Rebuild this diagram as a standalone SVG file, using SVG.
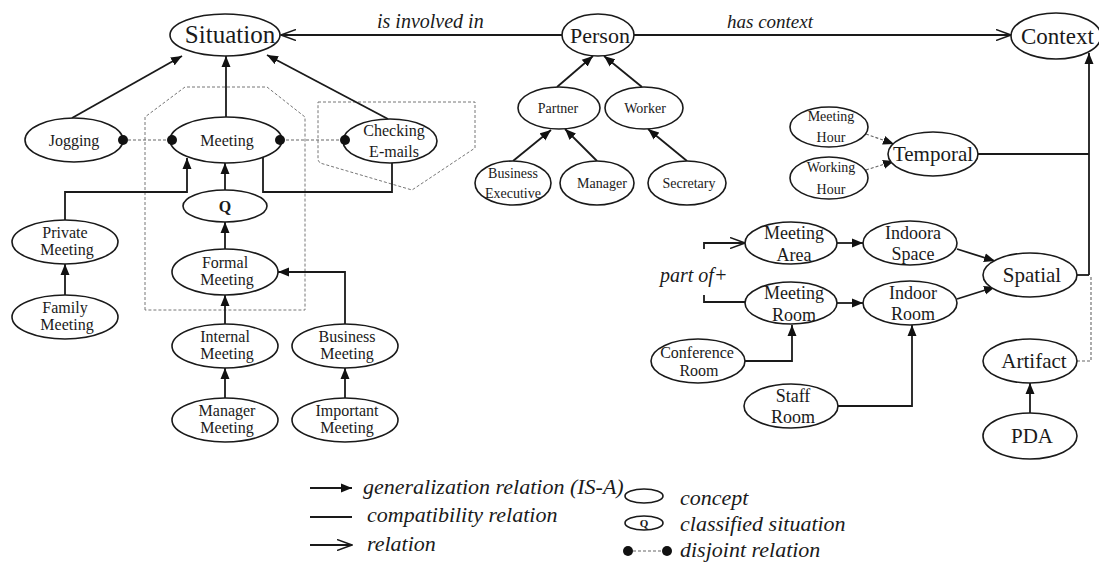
<svg xmlns="http://www.w3.org/2000/svg" width="1099" height="568" viewBox="0 0 1099 568">
<defs>
<style>
.n ellipse{fill:#fff;stroke:#1a1a1a;stroke-width:1.6}
text{font-family:"Liberation Serif","Times New Roman",serif;fill:#1a1a1a;text-anchor:middle}
.s16{font-size:16px}.s14{font-size:14px}.s18{font-size:18px}.s21{font-size:21px}
.it{font-style:italic;font-size:20px;text-anchor:start}
.lg{font-size:22px}
.c line,.c polyline{fill:none;stroke:#1a1a1a;stroke-width:1.8}
.c .d{stroke:#666;stroke-width:1.1;stroke-dasharray:3,2}
.grp{fill:none;stroke:#777;stroke-width:1;stroke-dasharray:3,2}
.dot{fill:#111}
</style>
<marker id="tri" markerUnits="userSpaceOnUse" markerWidth="12" markerHeight="10" refX="11" refY="5" orient="auto"><path d="M0,0.5 L11,5 L0,9.5 z" fill="#111"/></marker>
<marker id="open" markerUnits="userSpaceOnUse" markerWidth="16" markerHeight="12" refX="15" refY="6" orient="auto"><path d="M0,0.5 L15,6 L0,11.5" fill="none" stroke="#1a1a1a" stroke-width="1.5"/></marker>
</defs>
<rect width="1099" height="568" fill="#fff"/>

<g id="groups">
<polygon class="grp" points="145,310 145,117 185,87 267,87 305,117 305,310"/>
<polygon class="grp" points="318,102 475,102 475,148 412,190 320,163 318,160"/>
</g>

<g id="connectors" class="c">
<line x1="562" y1="35" x2="281" y2="35" marker-end="url(#open)"/>
<line x1="634" y1="35" x2="1011" y2="35" marker-end="url(#open)"/>
<line x1="72" y1="118" x2="182" y2="56" marker-end="url(#tri)"/>
<line x1="226" y1="117" x2="226" y2="56" marker-end="url(#tri)"/>
<line x1="388" y1="119" x2="267" y2="55" marker-end="url(#tri)"/>
<line class="d" x1="123" y1="140" x2="172" y2="140"/>
<line class="d" x1="281" y1="140" x2="344" y2="140"/>
<polyline points="65,220 65,192 187,192 187,158" marker-end="url(#tri)"/>
<line x1="225" y1="190" x2="225" y2="163" marker-end="url(#tri)"/>
<polyline points="263,157 263,192 392,192 392,163"/>
<line x1="225" y1="249" x2="225" y2="222" marker-end="url(#tri)"/>
<line x1="65" y1="295" x2="65" y2="264" marker-end="url(#tri)"/>
<line x1="225" y1="324" x2="225" y2="295" marker-end="url(#tri)"/>
<polyline points="345,324 345,272 278,272" marker-end="url(#tri)"/>
<line x1="225" y1="398" x2="225" y2="368" marker-end="url(#tri)"/>
<line x1="345" y1="398" x2="345" y2="368" marker-end="url(#tri)"/>
<line x1="557" y1="87" x2="593" y2="56" marker-end="url(#tri)"/>
<line x1="642" y1="87" x2="604" y2="56" marker-end="url(#tri)"/>
<line x1="513" y1="161" x2="551" y2="130" marker-end="url(#tri)"/>
<line x1="597" y1="161" x2="565" y2="129" marker-end="url(#tri)"/>
<line x1="687" y1="161" x2="648" y2="129" marker-end="url(#tri)"/>
<line class="d" x1="866" y1="134" x2="894" y2="144" marker-end="url(#tri)"/>
<line class="d" x1="866" y1="170" x2="894" y2="161" marker-end="url(#tri)"/>
<polyline points="978,154 1089,154"/>
<polyline points="1077,275 1089,275"/>
<line x1="1089" y1="275" x2="1089" y2="53" marker-end="url(#tri)"/>
<polyline class="d" points="1077,361 1091,361 1091,276"/>
<line x1="1030" y1="413" x2="1030" y2="383" marker-end="url(#tri)"/>
<line x1="837" y1="243" x2="863" y2="243" marker-end="url(#tri)"/>
<line x1="837" y1="303" x2="863" y2="303" marker-end="url(#tri)"/>
<line x1="957" y1="249" x2="995" y2="261" marker-end="url(#tri)"/>
<line x1="957" y1="299" x2="995" y2="287" marker-end="url(#tri)"/>
<polyline points="704,249 704,243 745,243" marker-end="url(#open)"/>
<polyline points="704,295 704,302 745,302"/>
<polyline points="745,361 792,361 792,325" marker-end="url(#tri)"/>
<polyline points="838,406 912,406 912,325" marker-end="url(#tri)"/>
</g>

<g id="labels">
<text class="it" x="377" y="28">is involved in</text>
<text class="it" x="727" y="28" style="font-size:19px">has context</text>
<text class="it" x="660" y="282">part of+</text>
</g>

<g id="situation" class="n"><ellipse cx="225" cy="35" rx="55" ry="21"/><text x="230" y="43" style="font-size:25px">Situation</text></g>
<g id="person" class="n"><ellipse cx="598" cy="35" rx="36" ry="21"/><text x="600" y="43" style="font-size:22px">Person</text></g>
<g id="context" class="n"><ellipse cx="1056" cy="36" rx="45" ry="23"/><text x="1021" y="44" style="font-size:23px;text-anchor:start">Context</text></g>
<g id="jogging" class="n"><ellipse cx="74" cy="140" rx="49" ry="22"/><text class="s16" x="74" y="146">Jogging</text></g>
<g id="meeting" class="n"><ellipse cx="226" cy="140" rx="56" ry="23"/><text class="s16" x="227" y="146">Meeting</text></g>
<g id="checking" class="n"><ellipse cx="390" cy="141" rx="47" ry="22"/><text class="s16" x="394" y="136">Checking</text><text class="s16" x="394" y="157">E-mails</text></g>
<g id="q" class="n"><ellipse cx="225" cy="206" rx="42" ry="16"/><text class="s16" x="225" y="212" font-weight="bold">Q</text></g>
<g id="private" class="n"><ellipse cx="65" cy="242" rx="53" ry="22"/><text class="s16" x="65" y="238">Private</text><text class="s16" x="67" y="255">Meeting</text></g>
<g id="family" class="n"><ellipse cx="65" cy="317" rx="53" ry="22"/><text class="s16" x="65" y="313">Family</text><text class="s16" x="67" y="330">Meeting</text></g>
<g id="formal" class="n"><ellipse cx="225" cy="272" rx="53" ry="23"/><text class="s16" x="225" y="268">Formal</text><text class="s16" x="227" y="285">Meeting</text></g>
<g id="internal" class="n"><ellipse cx="225" cy="346" rx="53" ry="22"/><text class="s16" x="225" y="342">Internal</text><text class="s16" x="227" y="359">Meeting</text></g>
<g id="business" class="n"><ellipse cx="345" cy="346" rx="53" ry="22"/><text class="s16" x="347" y="342">Business</text><text class="s16" x="347" y="359">Meeting</text></g>
<g id="managermeeting" class="n"><ellipse cx="225" cy="420" rx="53" ry="22"/><text class="s16" x="227" y="416">Manager</text><text class="s16" x="227" y="433">Meeting</text></g>
<g id="important" class="n"><ellipse cx="345" cy="420" rx="53" ry="22"/><text class="s16" x="347" y="416">Important</text><text class="s16" x="347" y="433">Meeting</text></g>
<g id="partner" class="n"><ellipse cx="559" cy="108" rx="41" ry="21"/><text class="s14" x="558" y="113">Partner</text></g>
<g id="worker" class="n"><ellipse cx="644" cy="108" rx="39" ry="21"/><text class="s14" x="645" y="113">Worker</text></g>
<g id="bizexec" class="n"><ellipse cx="513" cy="183" rx="38" ry="22"/><text class="s14" x="513" y="178">Business</text><text class="s14" x="513" y="198">Executive</text></g>
<g id="manager" class="n"><ellipse cx="597" cy="183" rx="37" ry="22"/><text class="s14" x="602" y="188">Manager</text></g>
<g id="secretary" class="n"><ellipse cx="687" cy="183" rx="39" ry="22"/><text class="s14" x="689" y="188">Secretary</text></g>
<g id="meetinghour" class="n"><ellipse cx="829" cy="127" rx="39" ry="20"/><text class="s14" x="831" y="121">Meeting</text><text class="s14" x="831" y="142">Hour</text></g>
<g id="workinghour" class="n"><ellipse cx="829" cy="178" rx="39" ry="21"/><text class="s14" x="831" y="172">Working</text><text class="s14" x="831" y="194">Hour</text></g>
<g id="temporal" class="n"><ellipse cx="933" cy="154" rx="45" ry="22"/><text class="s21" x="933" y="161">Temporal</text></g>
<g id="meetingarea" class="n"><ellipse cx="791" cy="243" rx="46" ry="21"/><text class="s18" x="794" y="239">Meeting</text><text class="s18" x="794" y="261">Area</text></g>
<g id="indoorspace" class="n"><ellipse cx="910" cy="243" rx="47" ry="22"/><text class="s18" x="913" y="239">Indoora</text><text class="s18" x="913" y="260">Space</text></g>
<g id="meetingroom" class="n"><ellipse cx="791" cy="303" rx="46" ry="21"/><text class="s18" x="794" y="299">Meeting</text><text class="s18" x="794" y="321">Room</text></g>
<g id="indoorroom" class="n"><ellipse cx="910" cy="303" rx="47" ry="22"/><text class="s18" x="913" y="299">Indoor</text><text class="s18" x="913" y="320">Room</text></g>
<g id="spatial" class="n"><ellipse cx="1030" cy="275" rx="47" ry="22"/><text class="s21" x="1032" y="282">Spatial</text></g>
<g id="conference" class="n"><ellipse cx="698" cy="361" rx="47" ry="22"/><text class="s16" x="697" y="358">Conference</text><text class="s16" x="699" y="376">Room</text></g>
<g id="staffroom" class="n"><ellipse cx="791" cy="406" rx="47" ry="22"/><text class="s18" x="793" y="402">Staff</text><text class="s18" x="793" y="423">Room</text></g>
<g id="artifact" class="n"><ellipse cx="1030" cy="361" rx="47" ry="22"/><text class="s21" x="1034" y="368">Artifact</text></g>
<g id="pda" class="n"><ellipse cx="1030" cy="436" rx="47" ry="23"/><text class="s21" x="1032" y="443">PDA</text></g>

<g id="disjoint-ends">
<circle class="dot" cx="123" cy="140" r="5"/>
<circle class="dot" cx="172" cy="140" r="5"/>
<circle class="dot" cx="280" cy="140" r="5"/>
<circle class="dot" cx="345" cy="140" r="5"/>
</g>

<g id="legend">
<g class="c">
<line x1="310" y1="488" x2="352" y2="488" marker-end="url(#tri)"/>
<line x1="310" y1="517" x2="352" y2="517"/>
<line x1="310" y1="545" x2="352" y2="545" marker-end="url(#open)"/>
<line class="d" x1="628" y1="551" x2="667" y2="551"/>
</g>
<circle class="dot" cx="628" cy="551" r="5"/>
<circle class="dot" cx="667" cy="551" r="5"/>
<g class="n"><ellipse cx="644" cy="496" rx="19" ry="7"/><ellipse cx="644" cy="523" rx="19" ry="7"/></g>
<text x="644" y="527" style="font-size:11px;font-weight:bold">Q</text>
<text class="it lg" x="363" y="494">generalization relation (IS-A)</text>
<text class="it lg" x="367" y="522">compatibility relation</text>
<text class="it lg" x="367" y="551">relation</text>
<text class="it lg" x="680" y="505">concept</text>
<text class="it lg" x="680" y="531">classified situation</text>
<text class="it lg" x="680" y="557">disjoint relation</text>
</g>
</svg>
